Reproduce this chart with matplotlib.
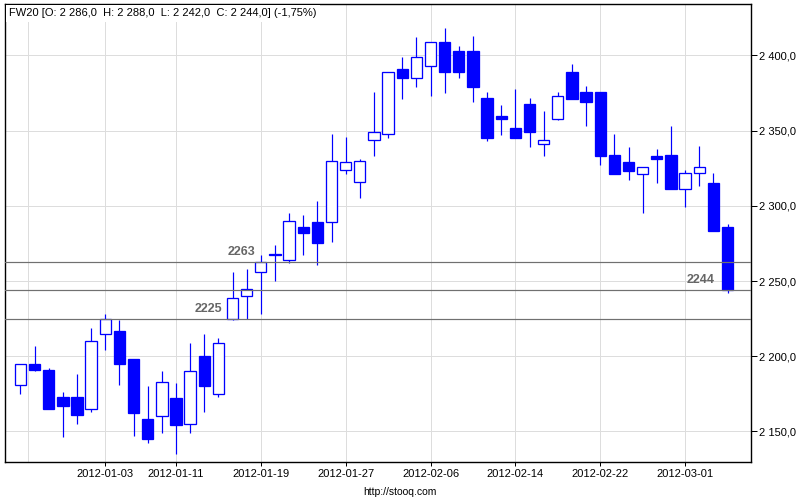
import matplotlib
matplotlib.use("Agg")
import matplotlib.pyplot as plt

# trading days shown on the chart
dates = ["2011-12-23", "2011-12-27", "2011-12-28", "2011-12-29", "2011-12-30",
         "2012-01-02", "2012-01-03", "2012-01-04", "2012-01-05", "2012-01-09",
         "2012-01-10", "2012-01-11", "2012-01-12", "2012-01-13", "2012-01-16",
         "2012-01-17", "2012-01-18", "2012-01-19", "2012-01-20", "2012-01-23",
         "2012-01-24", "2012-01-25", "2012-01-26", "2012-01-27", "2012-01-30",
         "2012-01-31", "2012-02-01", "2012-02-02", "2012-02-03", "2012-02-06",
         "2012-02-07", "2012-02-08", "2012-02-09", "2012-02-10", "2012-02-13",
         "2012-02-14", "2012-02-15", "2012-02-16", "2012-02-17", "2012-02-20",
         "2012-02-21", "2012-02-22", "2012-02-23", "2012-02-24", "2012-02-27",
         "2012-02-28", "2012-02-29", "2012-03-01", "2012-03-02", "2012-03-05",
         "2012-03-06"]

opens = [2181, 2195, 2191, 2173, 2173, 2165, 2215, 2217, 2198, 2158,
         2160, 2172, 2155, 2200, 2175, 2225, 2240, 2256, 2268, 2264,
         2286, 2289, 2289, 2324, 2316, 2344, 2348, 2391, 2385, 2393,
         2409, 2403, 2403, 2372, 2360, 2352, 2368, 2341, 2358, 2389,
         2376, 2376, 2334, 2329, 2321, 2333, 2334, 2311, 2322, 2315,
         2286]
highs = [2195, 2207, 2192, 2176, 2188, 2219, 2228, 2224, 2198, 2180,
         2190, 2182, 2209, 2215, 2212, 2256, 2258, 2267, 2274, 2295,
         2294, 2303, 2348, 2346, 2331, 2376, 2389, 2399, 2412, 2409,
         2418, 2406, 2413, 2376, 2367, 2378, 2372, 2363, 2376, 2394,
         2380, 2376, 2348, 2339, 2326, 2338, 2353, 2324, 2340, 2322,
         2288]
lows = [2175, 2190, 2165, 2146, 2155, 2163, 2204, 2181, 2147, 2142,
        2149, 2135, 2149, 2163, 2173, 2224, 2225, 2228, 2250, 2262,
        2267, 2261, 2276, 2321, 2305, 2333, 2345, 2371, 2379, 2373,
        2375, 2385, 2369, 2343, 2347, 2345, 2339, 2333, 2357, 2371,
        2353, 2327, 2321, 2317, 2295, 2315, 2311, 2299, 2313, 2283,
        2242]
closes = [2195, 2191, 2165, 2167, 2161, 2210, 2225, 2195, 2162, 2145,
          2183, 2154, 2190, 2180, 2209, 2239, 2245, 2263, 2267, 2290,
          2282, 2275, 2330, 2329, 2330, 2349, 2389, 2385, 2399, 2409,
          2389, 2389, 2379, 2345, 2358, 2345, 2349, 2344, 2373, 2371,
          2369, 2333, 2321, 2323, 2326, 2331, 2311, 2322, 2326, 2283,
          2244]

tick_labels = ["2012-01-03", "2012-01-11", "2012-01-19", "2012-01-27",
               "2012-02-06", "2012-02-14", "2012-02-22", "2012-03-01"]
y_ticks = [2150, 2200, 2250, 2300, 2350, 2400]

# support / resistance levels drawn on the chart
levels = [2263, 2244, 2225]
level_label_x = [16.6, 49.1, 14.25]

title = "FW20 [O: 2 286,0  H: 2 288,0  L: 2 242,0  C: 2 244,0] (-1,75%)"

plt.rcParams['font.family'] = ['Liberation Sans', 'DejaVu Sans']
px = 72.0 / 100  # one pixel in points

fig = plt.figure(figsize=(8, 5), dpi=100)
ax = fig.add_axes([5.3 / 800, 37.7 / 500, 745.4 / 800, 458.0 / 500])

blue = "#0000ff"
x = list(range(len(dates)))
ax.vlines(x, lows, highs, color=blue, lw=1.2 * px, zorder=3)
bottoms = [min(o, c) for o, c in zip(opens, closes)]
heights = [max(abs(c - o), 0.6) for o, c in zip(opens, closes)]
faces = ["white" if c > o else blue for o, c in zip(opens, closes)]
ax.bar(x, heights, bottom=bottoms, width=0.8, color=faces,
       edgecolor=blue, linewidth=1.3 * px, zorder=4)

for lv, lx in zip(levels, level_label_x):
    ax.axhline(lv, color="#707070", lw=1.2 * px, zorder=5)
    ax.text(lx, lv + 2.5, str(lv), ha="right", va="bottom", fontsize=9,
            fontweight="bold", color="#666666", zorder=6)

ax.set_xlim(-1.07, 51.64)
ax.set_ylim(2129.5, 2434.0)

tick_pos = [dates.index(d) for d in tick_labels]
ax.set_xticks(tick_pos)
ax.set_xticklabels(tick_labels, fontsize=8)
ax.set_xticks([0.5], minor=True)  # 2011-12-26, no session that day
ax.set_yticks(y_ticks)
ax.set_yticklabels([("%d %03d,0" % (v // 1000, v % 1000)) for v in y_ticks],
                   fontsize=8)
ax.yaxis.tick_right()
ax.tick_params(axis="x", which="major", direction="out", length=3, width=px,
               pad=2)
ax.tick_params(axis="x", which="minor", length=0)
ax.tick_params(axis="y", direction="out", length=4, width=px, pad=2)
ax.grid(True, which="both", color="#dddddd", lw=px, zorder=0)
ax.set_axisbelow(True)
for s in ax.spines.values():
    s.set_linewidth(1.4 * px)
    s.set_color("black")

ax.text(4 / 745.4, 1 - 9 / 458.0, title, transform=ax.transAxes,
        fontsize=8, va="center", ha="left", zorder=7,
        bbox=dict(facecolor="white", edgecolor="none", pad=2.5))

fig.text(0.5, 1 - 492 / 500, "http://stooq.com", ha="center", va="center",
         fontsize=7.5)

fig.savefig("out.png", dpi=100)
